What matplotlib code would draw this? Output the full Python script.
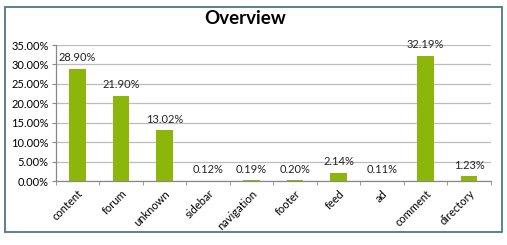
import numpy as np
import matplotlib.pyplot as plt
from matplotlib.patches import Rectangle
from matplotlib.ticker import FuncFormatter, FixedLocator

categories = ["content", "forum", "unknown", "sidebar", "navigation",
              "footer", "feed", "ad", "comment", "directory"]
values = [28.90, 21.90, 13.02, 0.12, 0.19, 0.20, 2.14, 0.11, 32.19, 1.23]

plt.rcParams['font.family'] = ['Lato', 'DejaVu Sans']

fig = plt.figure(figsize=(5.07, 2.45), dpi=100)
fig.patches.append(Rectangle((5 / 507, 1 - 232 / 245), 497 / 507, 225 / 245,
                             transform=fig.transFigure, fill=False,
                             edgecolor='#4a7a86', linewidth=1.3))

ax = fig.add_axes([55.75 / 507, 64 / 245, 435 / 507, 136 / 245])
x = np.arange(len(categories))
ax.bar(x, values, width=0.39, color='#8db60a', zorder=3)

for xi, v in zip(x, values):
    ax.annotate(f"{v:.2f}%", (xi, v), xytext=(0, 4), textcoords='offset points',
                ha='center', va='bottom', fontsize=8, color='#222222')

ax.set_xlim(-0.5, len(categories) - 0.5)
ax.set_ylim(0, 35)
ax.set_yticks(np.arange(0, 36, 5))
ax.yaxis.set_major_formatter(FuncFormatter(lambda v, p: f"{v:.2f}%"))
ax.yaxis.grid(True, color='#bdbdbd', linewidth=0.9, zorder=0)
ax.set_xticks(x)
ax.set_xticklabels(categories, rotation=45, ha='right', rotation_mode='anchor')
ax.xaxis.set_minor_locator(FixedLocator(np.arange(-0.5, len(categories), 1)))
ax.tick_params(axis='x', which='major', length=0, labelsize=8, pad=5)
ax.tick_params(axis='x', which='minor', length=3, color='#888888')
ax.tick_params(axis='y', length=3, color='#888888', labelsize=8, pad=2)

for s in ['top', 'right']:
    ax.spines[s].set_visible(False)
for s in ['left', 'bottom']:
    ax.spines[s].set_color('#888888')
    ax.spines[s].set_linewidth(0.9)

fig.text(245 / 507, 1 - 18 / 245, "Overview", ha='center', va='center',
         fontsize=13.5, fontweight='bold')

fig.savefig("out.png", dpi=100)
